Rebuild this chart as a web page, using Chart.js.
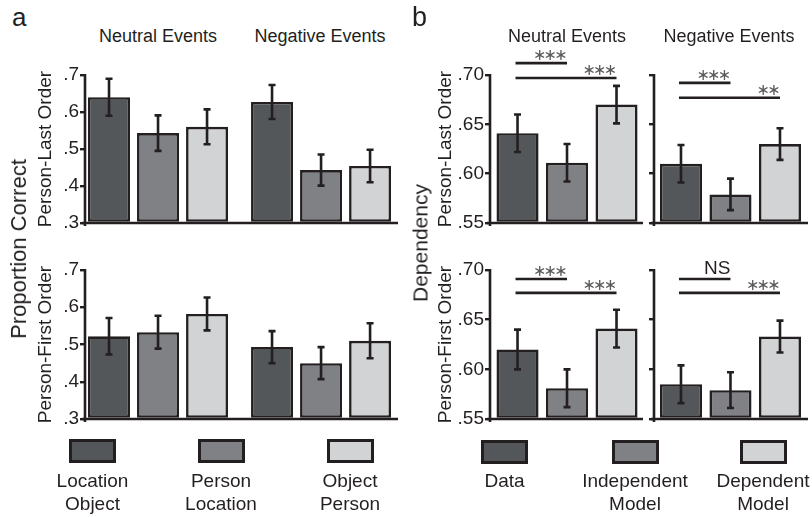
<!DOCTYPE html>
<html>
<head>
<meta charset="utf-8">
<script src="https://cdn.jsdelivr.net/npm/chart.js@4.4.1/dist/chart.umd.min.js"></script>
<style>
  body { margin: 0; background: #fff; }
  #fig { position: relative; width: 812px; height: 517px; overflow: hidden; background: #fff;
         font-family: 'Liberation Sans', Arial, Helvetica, sans-serif; color: #231f20; }
  #fig canvas { position: absolute; }
  .t { position: absolute; white-space: nowrap; line-height: 1; }
  .c { transform: translateX(-50%); text-align: center; }
  .rot { transform: translate(-50%, -50%) rotate(-90deg); }
  .leg { position: absolute; box-sizing: border-box; border: 3px solid #231f20; }
  .lab { position: absolute; transform: translateX(-50%); text-align: center; font-size: 19px; line-height: 23px; white-space: pre; }
</style>
</head>
<body>
<div id="fig"></div>
<script>
const INK = '#231f20';
const FONT = "'Liberation Sans', Arial, Helvetica, sans-serif";

// ---- panel a: proportion correct ----
const aEvents = ['Neutral Events', 'Negative Events'];
const aSeries = ['Location\nObject', 'Person\nLocation', 'Object\nPerson'];
const shades = ['#54575a', '#808185', '#d2d3d5'];
const aTicks = [0.3, 0.4, 0.5, 0.6, 0.7];
const aTickLabels = ['.3', '.4', '.5', '.6', '.7'];

// person-last order (neutral, negative)
const lastLocationObject = [0.640, 0.627];
const lastPersonLocation = [0.543, 0.443];
const lastObjectPerson = [0.560, 0.454];
const lastLocationObjectErr = [0.050, 0.046];
const lastPersonLocationErr = [0.048, 0.042];
const lastObjectPersonErr = [0.047, 0.044];

// person-first order
const firstLocationObject = [0.522, 0.493];
const firstPersonLocation = [0.533, 0.450];
const firstObjectPerson = [0.582, 0.510];
const firstLocationObjectErr = [0.049, 0.043];
const firstPersonLocationErr = [0.044, 0.043];
const firstObjectPersonErr = [0.044, 0.047];

// ---- panel b: dependency ----
const bModels = ['Data', 'Independent\nModel', 'Dependent\nModel'];
const bTicks = [0.55, 0.60, 0.65, 0.70];
const bTickLabels = ['.55', '.60', '.65', '.70'];

const depLastNeutral = [0.641, 0.611, 0.670];
const depLastNeutralErr = [0.019, 0.019, 0.019];
const depLastNegative = [0.610, 0.579, 0.630];
const depLastNegativeErr = [0.019, 0.016, 0.016];
const depFirstNeutral = [0.620, 0.581, 0.641];
const depFirstNeutralErr = [0.020, 0.019, 0.019];
const depFirstNegative = [0.585, 0.579, 0.633];
const depFirstNegativeErr = [0.019, 0.018, 0.016];

// significance brackets: bar index from -> to, height in data units
const sigLastNeutral = [{ from: 0, to: 1, level: 0.712, label: '***' }, { from: 0, to: 2, level: 0.697, label: '***' }];
const sigLastNegative = [{ from: 0, to: 1, level: 0.692, label: '***' }, { from: 0, to: 2, level: 0.677, label: '**' }];
const sigFirstNeutral = [{ from: 0, to: 1, level: 0.691, label: '***' }, { from: 0, to: 2, level: 0.677, label: '***' }];
const sigFirstNegative = [{ from: 0, to: 1, level: 0.691, label: 'NS' }, { from: 0, to: 2, level: 0.677, label: '***' }];

const fig = document.getElementById('fig');

// y axis + baseline, drawn from the chart area
const axisLines = {
  id: 'axisLines',
  afterDatasetsDraw(chart) {
    const { ctx, chartArea: a } = chart;
    ctx.save();
    ctx.strokeStyle = INK;
    ctx.lineWidth = 2.6;
    ctx.beginPath();
    ctx.moveTo(a.left, a.top - 1); ctx.lineTo(a.left, a.bottom + 3);
    ctx.moveTo(a.left - 3, a.bottom); ctx.lineTo(a.right, a.bottom);
    ctx.stroke();
    ctx.restore();
  }
};

const errorBars = {
  id: 'errorBars',
  afterDatasetsDraw(chart) {
    const ctx = chart.ctx;
    const y = chart.scales.y;
    chart.data.datasets.forEach((ds, di) => {
      chart.getDatasetMeta(di).data.forEach((bar, i) => {
        const v = ds.data[i].y, e = ds.err[i];
        const top = y.getPixelForValue(v + e), bot = y.getPixelForValue(v - e);
        ctx.save();
        ctx.strokeStyle = INK;
        ctx.lineWidth = 2.6;
        ctx.beginPath();
        ctx.moveTo(bar.x, top); ctx.lineTo(bar.x, bot);
        ctx.moveTo(bar.x - 3.5, top); ctx.lineTo(bar.x + 3.5, top);
        ctx.moveTo(bar.x - 3.5, bot); ctx.lineTo(bar.x + 3.5, bot);
        ctx.stroke();
        ctx.restore();
      });
    });
  }
};

function sigPlugin(items) {
  return {
    id: 'sig',
    afterDatasetsDraw(chart) {
      const ctx = chart.ctx, x = chart.scales.x, y = chart.scales.y;
      items.forEach((s) => {
        const x1 = x.getPixelForValue(s.from) - 2, x2 = x.getPixelForValue(s.to);
        const yy = y.getPixelForValue(s.level);
        ctx.save();
        ctx.strokeStyle = INK;
        ctx.lineWidth = 2.6;
        ctx.beginPath(); ctx.moveTo(x1, yy); ctx.lineTo(x2, yy); ctx.stroke();
        if (s.label.startsWith('*')) {
          ctx.fillStyle = '#5a5a5a';
          ctx.font = "16px 'DejaVu Sans'";
          ctx.textAlign = 'center';
          ctx.textBaseline = 'middle';
          for (let k = 0; k < s.label.length; k++) {
            ctx.fillText('\u2217', x2 - 6 - (s.label.length - 1 - k) * 10.7, yy - 7);
          }
        } else {
          ctx.fillStyle = INK;
          ctx.font = '19px ' + FONT;
          ctx.textAlign = 'right';
          ctx.textBaseline = 'alphabetic';
          ctx.fillText(s.label, x2, yy - 5);
        }
        ctx.restore();
      });
    }
  };
}

function barChart(c) {
  const cv = document.createElement('canvas');
  cv.width = c.w; cv.height = c.h;
  cv.style.left = c.left + 'px'; cv.style.top = c.top + 'px';
  cv.style.width = c.w + 'px'; cv.style.height = c.h + 'px';
  fig.appendChild(cv);
  const plugins = [axisLines, errorBars];
  if (c.sig) plugins.push(sigPlugin(c.sig));
  return new Chart(cv, {
    type: 'bar',
    data: { datasets: c.datasets },
    plugins,
    options: {
      responsive: false,
      animation: false,
      layout: { padding: { top: c.padTop, bottom: c.padBottom, right: c.padRight, left: 0 } },
      plugins: { legend: { display: false }, tooltip: { enabled: false } },
      datasets: { bar: { categoryPercentage: c.catPct, barPercentage: c.barPct, borderSkipped: false,
                         borderWidth: 2.6, borderColor: INK, base: c.yMin } },
      scales: {
        x: {
          type: 'linear', offset: false, min: c.xMin, max: c.xMax,
          afterBuildTicks: (s) => { s.ticks = c.xs.map((v) => ({ value: v })); },
          afterFit: (s) => { s.height = 0; },
          ticks: { display: false },
          grid: { display: false },
          border: { display: false }
        },
        y: {
          min: c.yMin, max: c.yMax,
          afterBuildTicks: (s) => { s.ticks = c.ticks.map((v) => ({ value: v })); },
          afterFit: (s) => { s.width = c.axisW; },
          ticks: { display: c.showLabels, callback: (v, i) => c.tickLabels[i], color: INK, padding: 1,
                   font: { family: FONT, size: 19 } },
          grid: { drawOnChartArea: false, drawTicks: true, tickLength: 5, color: INK, lineWidth: 2.4 },
          border: { display: false },
          title: c.title ? { display: true, text: c.title, color: INK, font: { family: FONT, size: 19, lineHeight: 1.2 },
                   padding: { top: 34.6, bottom: 0 } } : { display: false }
        }
      }
    }
  });
}

function groupedSets(means, errs) {
  return means.map((m, k) => ({
    label: aSeries[k],
    data: m.map((v, i) => ({ x: i, y: v })),
    err: errs[k],
    backgroundColor: shades[k]
  }));
}

function modelSet(means, errs) {
  return [{
    label: 'Dependency',
    data: means.map((v, i) => ({ x: i, y: v })),
    err: errs,
    backgroundColor: shades
  }];
}

// panel a charts
const aBase = { left: 0, w: 405, padRight: 7, axisW: 85, xMin: -0.448, xMax: 1.472, xs: [0, 1],
  catPct: 0.902, barPct: 0.857, yMin: 0.3, yMax: 0.7, ticks: aTicks, tickLabels: aTickLabels, showLabels: true };
barChart(Object.assign({}, aBase, { top: 55, h: 185, padTop: 20, padBottom: 17, title: 'Person-Last Order',
  datasets: groupedSets([lastLocationObject, lastPersonLocation, lastObjectPerson],
                        [lastLocationObjectErr, lastPersonLocationErr, lastObjectPersonErr]) }));
barChart(Object.assign({}, aBase, { top: 250, h: 190, padTop: 20, padBottom: 21, title: 'Person-First Order',
  datasets: groupedSets([firstLocationObject, firstPersonLocation, firstObjectPerson],
                        [firstLocationObjectErr, firstPersonLocationErr, firstObjectPersonErr]) }));

// panel b charts
const bBase = { xs: [0, 1, 2], catPct: 1, barPct: 0.85, yMin: 0.55, yMax: 0.70, ticks: bTicks, tickLabels: bTickLabels };
const bLeft = { left: 400, w: 250, padRight: 7, axisW: 90, xMin: -0.556, xMax: 2.535, showLabels: true };
const bRight = { left: 630, w: 182, padRight: 4, axisW: 24, xMin: -0.545, xMax: 2.566, showLabels: false };
const bTop = { top: 40, h: 200, padTop: 35, padBottom: 17 };
const bBot = { top: 235, h: 205, padTop: 35, padBottom: 21 };
barChart(Object.assign({}, bBase, bLeft, bTop, { title: 'Person-Last Order', sig: sigLastNeutral,
  datasets: modelSet(depLastNeutral, depLastNeutralErr) }));
barChart(Object.assign({}, bBase, bRight, bTop, { sig: sigLastNegative,
  datasets: modelSet(depLastNegative, depLastNegativeErr) }));
barChart(Object.assign({}, bBase, bLeft, bBot, { title: 'Person-First Order', sig: sigFirstNeutral,
  datasets: modelSet(depFirstNeutral, depFirstNeutralErr) }));
barChart(Object.assign({}, bBase, bRight, bBot, { sig: sigFirstNegative,
  datasets: modelSet(depFirstNegative, depFirstNegativeErr) }));

// text and legend
function text(str, x, y, size, cls) {
  const d = document.createElement('div');
  d.className = 't ' + (cls || '');
  d.textContent = str;
  d.style.left = x + 'px'; d.style.top = y + 'px'; d.style.fontSize = size + 'px';
  fig.appendChild(d);
}
text('a', 12, 4, 26);
text('b', 412, 4, 27);
text(aEvents[0], 158, 27, 18, 'c');
text(aEvents[1], 320, 27, 18, 'c');
text(aEvents[0], 567, 27, 18, 'c');
text(aEvents[1], 729, 27, 18, 'c');
text('Proportion Correct', 19, 249, 22, 'rot');
text('Dependency', 420, 243, 21, 'rot');

function legend(names, centers, boxTop) {
  names.forEach((n, k) => {
    const b = document.createElement('div');
    b.className = 'leg';
    b.style.left = (centers[k] - 23.5) + 'px'; b.style.top = boxTop + 'px';
    b.style.width = '47px'; b.style.height = '24px';
    b.style.background = shades[k];
    fig.appendChild(b);
    const l = document.createElement('div');
    l.className = 'lab';
    l.textContent = n;
    l.style.left = centers[k] + 'px'; l.style.top = '469px';
    fig.appendChild(l);
  });
}
legend(aSeries, [92.5, 221, 350], 439);
legend(bModels, [504.5, 635, 763], 440);
</script>
</body>
</html>
